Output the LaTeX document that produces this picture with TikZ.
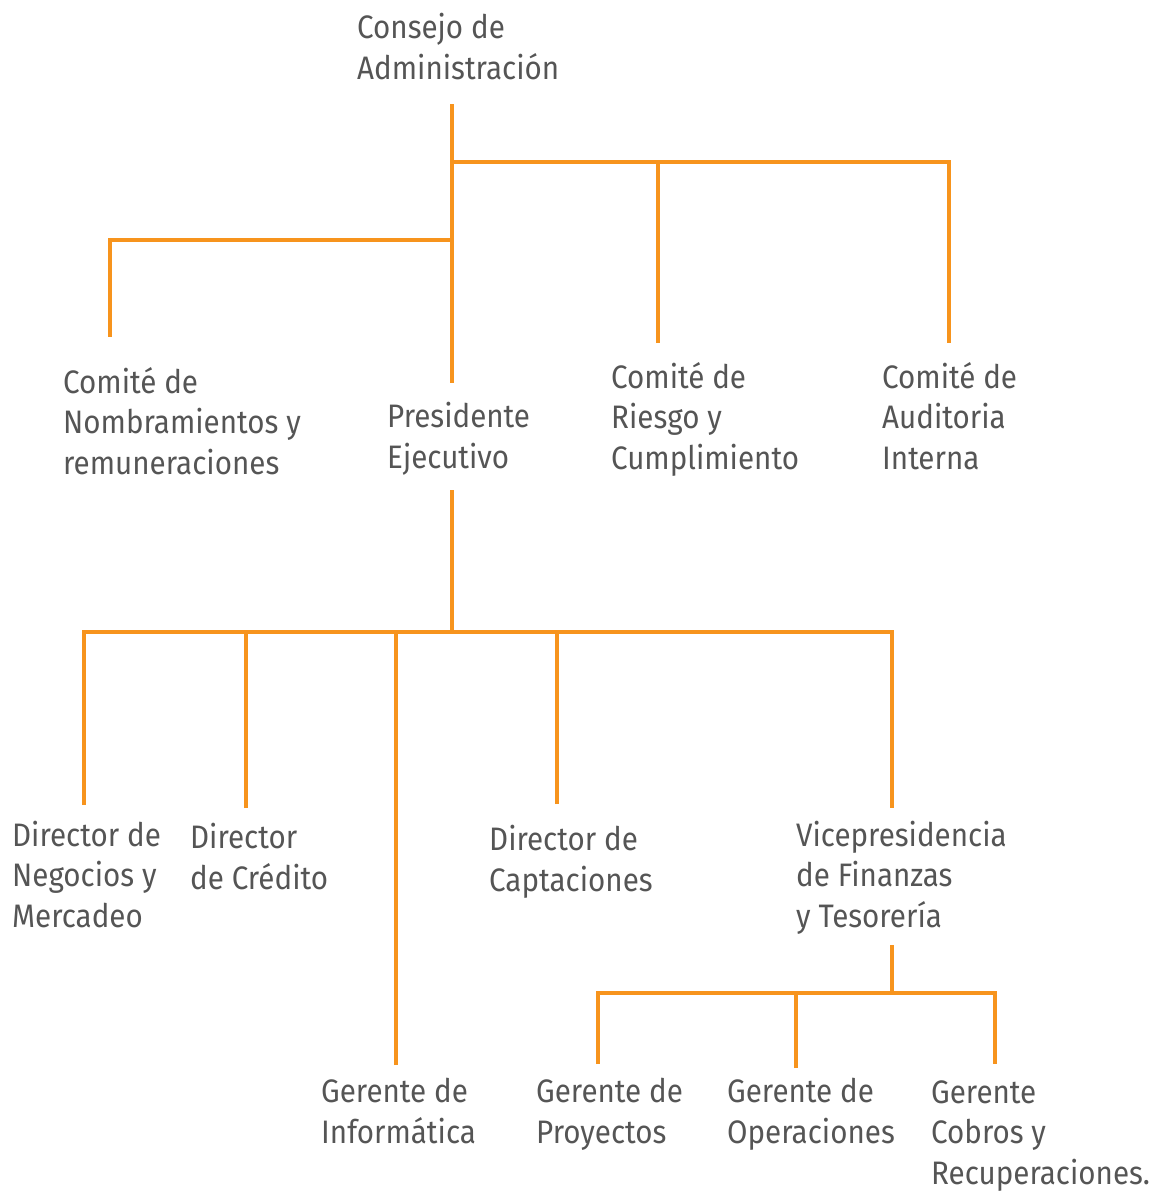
\documentclass[tikz,border=0pt]{standalone}
\usepackage{fontspec}
\setmainfont{Fira Sans}[FakeStretch=0.91]
\definecolor{org}{HTML}{F7941D}
\definecolor{txt}{HTML}{555555}
\begin{document}
\begin{tikzpicture}[x=1pt,y=-1pt,
  lbl/.style={anchor=base west, inner sep=0pt, align=left, text=txt,
    font=\fontsize{32.5}{40.5}\selectfont},
  conn/.style={draw=org, line width=4.6pt}]
\useasboundingbox (0,0) rectangle (1161,1194);

% labels (anchored at the baseline of the last line)
\node[lbl] (consejo) at (357,79) {Consejo de\\Administración};
\node[lbl] (nomb) at (63,474) {Comité de\\Nombramientos y\\remuneraciones};
\node[lbl] (pres) at (387,468) {Presidente\\Ejecutivo};
\node[lbl] (riesgo) at (611,469) {Comité de\\Riesgo y\\Cumplimiento};
\node[lbl] (audit) at (882,469) {Comité de\\Auditoria\\Interna};
\node[lbl] (negocios) at (12,927) {Director de\\Negocios y\\Mercadeo};
\node[lbl] (credito) at (190,889) {Director\\de Crédito};
\node[lbl] (capt) at (489,891) {Director de\\Captaciones};
\node[lbl] (vice) at (796,927) {Vicepresidencia\\de Finanzas\\y Tesorería};
\node[lbl] (inform) at (321,1143) {Gerente de\\Informática};
\node[lbl] (proy) at (536,1143) {Gerente de\\Proyectos};
\node[lbl] (oper) at (727,1143) {Gerente de\\Operaciones};
\node[lbl] (cobros) at (931,1184) {Gerente\\Cobros y\\Recuperaciones.};

% connector end points
\coordinate (consejoB) at (452,104);
\coordinate (presT) at (452,383);
\coordinate (jA) at (452,162);
\coordinate (jB) at (452,240);
\coordinate (riesgoT) at (658,343);
\coordinate (auditT) at (949,343);
\coordinate (nombT) at (110,337);
\coordinate (presB) at (452,490);
\coordinate (jC) at (452,632);
\coordinate (negT) at (84,805);
\coordinate (credT) at (246,808);
\coordinate (infT) at (396,1065);
\coordinate (captT) at (557,804);
\coordinate (viceT) at (892,808);
\coordinate (viceB) at (892,945);
\coordinate (jD) at (892,993);
\coordinate (proyT) at (598,1064);
\coordinate (operT) at (796,1068);
\coordinate (cobT) at (995,1064);

% connectors
\draw[conn] (consejoB) -- (presT);
\draw[conn] (jA) -| (auditT);
\draw[conn] (riesgoT) -- (riesgoT |- jA);
\draw[conn] (jB) -| (nombT);
\draw[conn] (presB) -- (jC);
\draw[conn] (negT) |- (jC) -| (viceT);
\draw[conn] (credT) -- (credT |- jC);
\draw[conn] (infT) -- (infT |- jC);
\draw[conn] (captT) -- (captT |- jC);
\draw[conn] (viceB) -- (jD);
\draw[conn] (proyT) |- (jD) -| (cobT);
\draw[conn] (operT) -- (operT |- jD);
\end{tikzpicture}
\end{document}
